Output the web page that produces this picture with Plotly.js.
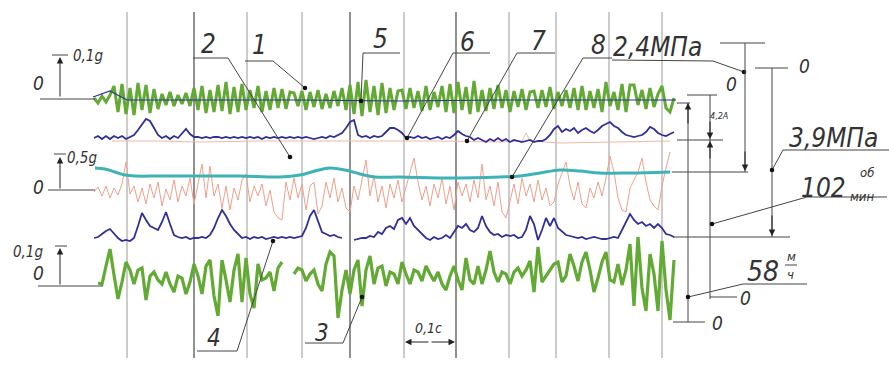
<!DOCTYPE html>
<html><head><meta charset="utf-8">
<script src="https://cdn.plot.ly/plotly-3.0.1.min.js"></script>
<style>html,body{margin:0;padding:0;background:#fff;overflow:hidden}</style>
</head><body>
<div id="chart" style="width:889px;height:368px"></div>
<script>
// time samples (px of recording chart, step 4)
const t = [
 94,98,102,106,110,114,118,122,126,130,
 134,138,142,146,150,154,158,162,166,170,
 174,178,182,186,190,194,198,202,206,210,
 214,218,222,226,230,234,238,242,246,250,
 254,258,262,266,270,274,278,282,286,290,
 294,298,302,306,310,314,318,322,326,330,
 334,338,342,346,350,354,358,362,366,370,
 374,378,382,386,390,394,398,402,406,410,
 414,418,422,426,430,434,438,442,446,450,
 454,458,462,466,470,474,478,482,486,490,
 494,498,502,506,510,514,518,522,526,530,
 534,538,542,546,550,554,558,562,566,570,
 574,578,582,586,590,594,598,602,606,610,
 614,618,622,626,630,634,638,642,646,650,
 654,658,662,666,670,674,678,682];
const gridX = [127,194,247,302,350,404,456,509,556,609,662];
// 1 – vertical vibration (green, top)
const green1 = [
 2,-3,4,-2,5,14,-12,16,-14,12,
 -15,17,-10,15,-13,11,-9,6,-5,8,
 -6,5,-4,7,-6,12,-10,14,-13,10,
 -12,15,-11,18,-14,13,-12,16,-10,10,
 -8,14,-12,9,-10,12,-8,11,-9,8,
 7,-6,9,-10,8,-7,10,-9,6,-8,
 9,-6,12,-10,15,-14,18,-16,20,-12,
 14,-15,17,-13,12,-10,9,10,-9,12,
 -8,9,-11,14,-10,8,-7,14,-12,16,
 -13,18,-10,13,-14,19,-12,10,-11,12,
 -9,15,-8,10,-12,9,-7,11,-10,8,
 9,-8,10,-7,13,-9,8,-6,10,-8,
 12,-10,14,-10,9,-8,11,-12,18,-6,
 8,-10,16,-12,15,15,-5,10,-9,12,
 -7,6,14,-8,-12,2,null,null];
// 6 – pressure 2,4 MPa (blue, upper)
const blue2 = [
 0,2,-1,2,-1,2,0,2,-1,1,
 3,8,14,19,17,10,3,0,2,-1,
 2,0,4,9,4,1,1,0,1,0,
 1,1,0,1,0,1,0,1,0,1,
 0,1,-1,1,0,1,0,1,0,1,
 0,1,0,1,0,-1,0,1,0,2,
 1,3,5,10,16,18,3,1,2,0,
 2,1,2,6,10,10,8,5,0,1,
 0,2,0,1,-1,0,1,-1,1,0,
 3,7,4,2,1,-2,0,-2,-4,-1,
 -3,0,-3,-1,-4,-2,-3,-4,-3,-2,
 -4,-3,-3,-1,3,9,12,6,9,7,
 10,5,8,10,7,5,8,12,14,16,
 12,10,6,3,2,1,2,3,6,11,
 9,5,3,2,4,6,null,null];
// 2 – vibration 0,5g (salmon)
const salmon = [
 0,5,-4,6,-6,4,-3,8,30,-2,
 6,-10,4,-12,8,-6,10,-14,3,-8,
 12,-10,6,-4,14,-12,8,28,-6,26,
 -4,8,-16,6,-18,4,-8,12,18,-10,
 6,-4,8,-14,2,-20,-26,-28,10,-8,
 14,-6,8,-18,6,10,-22,-14,10,-6,
 14,-10,4,-16,-20,6,-8,12,32,-4,
 16,-10,6,-16,8,-6,12,-10,4,18,
 34,10,-8,6,-14,8,-6,14,-12,6,
 -18,10,-4,8,-10,12,-6,28,-8,6,
 -14,10,-20,-26,-8,8,-12,14,-4,8,
 -10,12,-8,4,-14,-10,8,18,30,6,
 -8,10,-12,-16,4,-6,10,-4,14,36,
 20,-6,-18,-20,4,12,20,34,10,-8,
 -14,-18,6,24,40,null,null,null];
// 4 – pressure 3,9 MPa (blue, lower)
const blue4 = [
 0,1,4,7,9,4,0,-3,-2,-3,
 0,12,25,18,12,10,8,16,26,14,
 3,1,0,1,-1,0,0,1,0,3,
 10,20,28,22,14,8,4,0,1,-1,
 1,0,1,-1,0,1,0,1,0,1,
 0,1,2,10,22,28,18,6,4,2,
 3,1,0,null,null,-2,-1,0,0,2,
 1,6,4,10,12,9,18,20,14,20,
 12,8,3,0,-2,1,-1,0,3,0,
 6,12,10,14,8,6,10,22,12,6,
 3,4,1,3,2,3,0,1,8,22,
 14,-2,8,20,12,20,10,6,3,2,
 1,0,1,-1,0,1,0,-1,-1,0,
 1,0,8,16,24,18,14,16,12,14,
 10,14,10,4,3,1,null,null];
// 3 – vibration 0,1g (green, lower)
const green3 = [
 null,-3,-4,14,31,5,-19,-2,18,10,
 -4,10,12,-20,4,8,0,-4,8,-4,
 -12,4,2,-14,-2,16,4,-14,14,20,
 -16,-36,20,0,-22,10,26,-22,22,-14,
 -28,16,0,2,8,-11,12,18,null,null,
 6,12,10,-1,6,10,-4,-11,16,28,
 24,-38,-10,10,-14,10,20,-26,10,24,
 -4,12,14,-6,8,6,-4,18,6,-4,
 10,8,-1,14,6,-1,8,-4,-10,4,
 14,0,-10,22,0,-4,14,-4,10,29,
 8,-2,8,6,-4,8,12,4,10,19,
 -12,33,-2,4,9,16,18,-2,4,26,
 14,-1,18,28,10,-12,2,18,28,0,
 -2,16,-5,10,36,-26,43,-8,-31,26,
 6,-31,39,-10,-40,20,null,null];
// 5 – thin line (zero of upper channel)
const thinX = [93,110,127,200,300,400,500,600,676];
const thinDev = [3,9,0,0,0,-1,0,0,0];
// 7 – thin salmon line
const salThinX = [112,160,200,260,320,380,440,500,522,526,530,560,620,670];
const salThinDev = [0,0,-1,0,0,0,0,-1,0,8,0,-2,-1,0];
// 8 – rotation speed (cyan)
const cyanX = [95,105,115,125,135,160,200,240,280,300,315,330,345,360,375,400,450,500,520,540,560,580,600,630,670];
const cyanDev = [8,7,4,1,0,0,0,0,-1,1,5,8,6,2,-1,-1,-2,-1,0,3,6,5,3,3,4];

const GREEN = '#62aa34', BLUE = '#2f2f96', CYAN = '#3db3b6', SAL = '#eda08c', INK = '#444';
function shift(arr, base){ return arr.map(v => v === null ? null : base - v); }
function tr(x, y, color, width, shape){
  return {x: x, y: y, type: 'scatter', mode: 'lines', hoverinfo: 'skip', connectgaps: false,
    line: {color: color, width: width, shape: shape || 'linear', smoothing: 1}};
}
const data = [
  tr(salThinX, shift(salThinDev, 141), '#f0b8a4', 1),
  tr(t, shift(salmon, 192), SAL, 1),
  tr(cyanX, shift(cyanDev, 176), CYAN, 3, 'spline'),
  tr(t, shift(blue2, 138), BLUE, 1.8),
  tr(t, shift(green1, 100), GREEN, 3),
  tr(thinX, shift(thinDev, 100), BLUE, 1.2),
  tr(t, shift(blue4, 238), BLUE, 1.8),
  tr(t, shift(green3, 280), GREEN, 3.2)
];

const shapes = [];
gridX.forEach((gx, i) => {
  const dark = (gx === 194 || gx === 350 || gx === 456);
  shapes.push({type:'line', xref:'x', yref:'y', x0:gx, x1:gx, y0:12, y1:358,
    line:{color: dark ? '#555' : '#999', width: dark ? 1.3 : 1}, layer:'below'});
});
function L(x0,y0,x1,y1,w){ shapes.push({type:'line',xref:'x',yref:'y',x0:x0,y0:y0,x1:x1,y1:y1,line:{color:INK,width:w||1}}); }
function D(x,y){ shapes.push({type:'circle',xref:'x',yref:'y',x0:x-2.3,x1:x+2.3,y0:y-2.3,y1:y+2.3,fillcolor:'#111',line:{width:0}}); }
// left scale marks
L(40,99,95,99); L(52,55,68,55);
L(48,190,95,190); L(54,154,66,154);
L(38,286,103,286); L(55,246,67,246);
// leaders
L(193,58,228,58); L(228,58,290,157); D(290,157);
L(245,61,273,61); L(273,61,305,88); D(305,88);
L(363,53,400,53); L(363,53,361,101); D(361,101);
L(453,53,490,53); L(453,53,407,138); D(407,138);
L(517,53,555,53); L(517,53,467,141); D(467,141);
L(583,58,612,58); L(583,58,512,177); D(512,177);
L(612,60,713,61); L(713,61,744,72); D(744,72);
// right dimension lines
L(720,43,765,43); L(745,43,745,172); L(672,172,748,172);
L(755,68,788,68); L(772,68,772,237); L(673,237,790,237);
L(687,95,717,95); L(710,95,710,299); L(710,297,737,297);
L(677,103,690,103); L(688,103,688,322); L(673,322,705,322);
L(677,140,723,140);
L(772,170,783,150); L(783,150,889,150); D(772,170);
L(712,224,807,197); L(807,197,887,197); D(712,224);
L(688,297,743,284); L(743,284,807,284); D(688,297);
L(785,265,797,265);
// lower leaders
L(197,351,237,351); L(237,351,273,241); D(273,241);
L(305,343,343,343); L(343,343,362,297); D(362,297);

const FONT = "'DejaVu Sans Condensed', 'Liberation Sans Narrow', 'DejaVu Sans', sans-serif";
const annotations = [];
function T(x,y,text,size){ annotations.push({x:x,y:y,xref:'x',yref:'y',text:'<i>'+text+'</i>',showarrow:false,
  font:{family:FONT,size:size,color:'#333'}}); }
function A(x,y,ax,ay){ annotations.push({x:x,y:y,ax:ax,ay:ay,xref:'x',yref:'y',axref:'x',ayref:'y',text:'',
  showarrow:true,arrowhead:2,arrowsize:1.3,arrowwidth:1,arrowcolor:'#222',standoff:0,startstandoff:0}); }
T(88,56,'0,1g',15); T(38,83,'0',19);
T(82,158,'0,5g',15); T(38,187,'0',19);
T(28,252,'0,1g',15); T(38,273,'0',19);
T(208,44,'2',26); T(259,45,'1',26); T(380,39,'5',26); T(467,42,'6',26); T(538,41,'7',26); T(598,45,'8',26);
T(657,47,'2,4МПа',26);
T(731,84,'0',19); T(804,66,'0',19); T(719,116,'4,2A',9);
T(833,138,'3,9МПа',26);
T(823,188,'102',26); T(867,172,'об',13); T(862,196,'мин',13);
T(763,271,'58',28); T(791,256,'м',13); T(790,274,'ч',13);
T(745,298,'0',19); T(717,323,'0',19);
T(214,338,'4',24); T(322,333,'3',24);
T(428,328,'0,1с',14);
A(60,57,60,98); A(60,157,60,190); A(60,248,60,286);
A(745,171,745,150); A(772,236,772,214); A(688,103,688,125);
A(710,139,710,120); A(710,141,710,160);
A(405,342,430,342); A(455,342,430,342);

const layout = {
  width: 889, height: 368, margin:{l:0,r:0,t:0,b:0},
  paper_bgcolor:'#fff', plot_bgcolor:'#fff', showlegend:false,
  xaxis:{range:[0,889], visible:false, fixedrange:true},
  yaxis:{range:[368,0], visible:false, fixedrange:true},
  shapes: shapes, annotations: annotations
};
Plotly.newPlot('chart', data, layout, {staticPlot:true, displayModeBar:false});
</script>
</body></html>
